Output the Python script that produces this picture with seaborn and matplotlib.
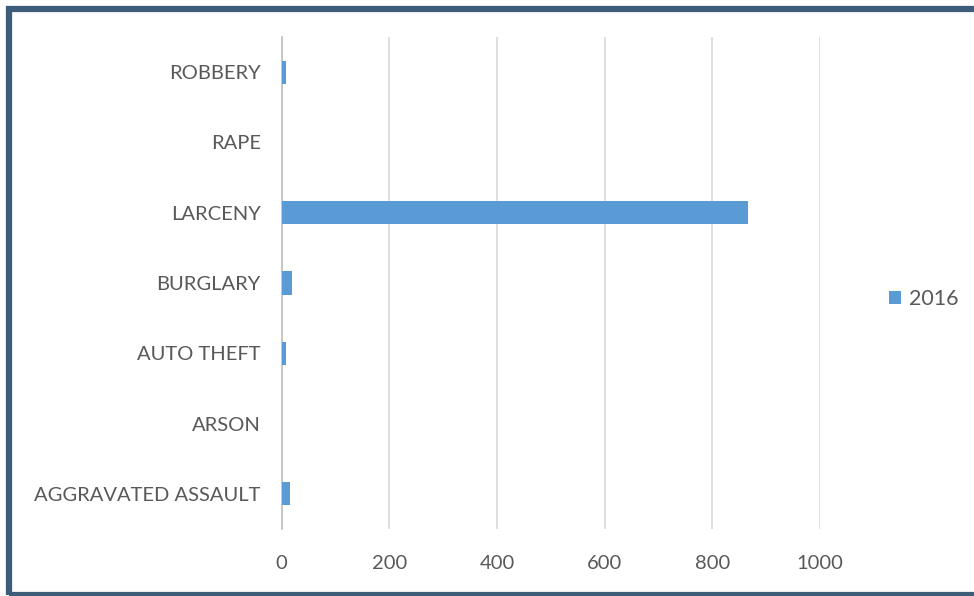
import pandas as pd
import seaborn as sns
import matplotlib.pyplot as plt
from matplotlib.patches import Rectangle

categories = ['ROBBERY', 'RAPE', 'LARCENY', 'BURGLARY', 'AUTO THEFT', 'ARSON', 'AGGRAVATED ASSAULT']
counts_2016 = [8, 0, 867, 19, 8, 0, 15]
series_name = '2016'
x_ticks = [0, 200, 400, 600, 800, 1000]

bar_color = '#5b9bd5'
text_color = '#595959'

df = pd.DataFrame({'crime': categories, 'count': counts_2016, 'year': series_name})

sns.set_theme(style='white')
plt.rcParams['font.family'] = ['Lato', 'DejaVu Sans']

W, H = 974, 596
fig = plt.figure(figsize=(W / 100, H / 100), dpi=100)
ax = fig.add_axes([281.5 / W, 1 - 529 / H, (820 - 281.5) / W, (529 - 37) / H])

sns.barplot(data=df, y='crime', x='count', hue='year', palette=[bar_color],
            saturation=1, orient='h', width=0.33, linewidth=0, ax=ax,
            legend=True, zorder=3)

ax.set_xlim(0, 1000)
ax.set_xticks(x_ticks)
ax.set_xticklabels([str(t) for t in x_ticks])
ax.grid(axis='x', color='#d9d9d9', linewidth=1.2, zorder=0)
for s in ['top', 'right', 'bottom']:
    ax.spines[s].set_visible(False)
ax.spines['left'].set_color('#bfbfbf')
ax.spines['left'].set_linewidth(1.2)
ax.set_xlabel('')
ax.set_ylabel('')
ax.tick_params(axis='both', length=0, labelsize=14.5, labelcolor=text_color)
ax.tick_params(axis='y', pad=15)
ax.tick_params(axis='x', pad=19)

leg = ax.legend(loc='center left', bbox_to_anchor=(870 / W, 1 - 299 / H),
                bbox_transform=fig.transFigure, frameon=False, fontsize=15.5,
                handlelength=0.55, handleheight=0.55, handletextpad=0.35)
for t in leg.get_texts():
    t.set_color(text_color)

# dark frame around chart (right edge runs off the picture)
fig.patches.append(Rectangle((8.5 / W, 1.5 / H), 1.2, 1 - 10 / H,
                             transform=fig.transFigure, fill=False,
                             edgecolor='#3d5c78', linewidth=4.5))

fig.savefig('out.png', dpi=100)
